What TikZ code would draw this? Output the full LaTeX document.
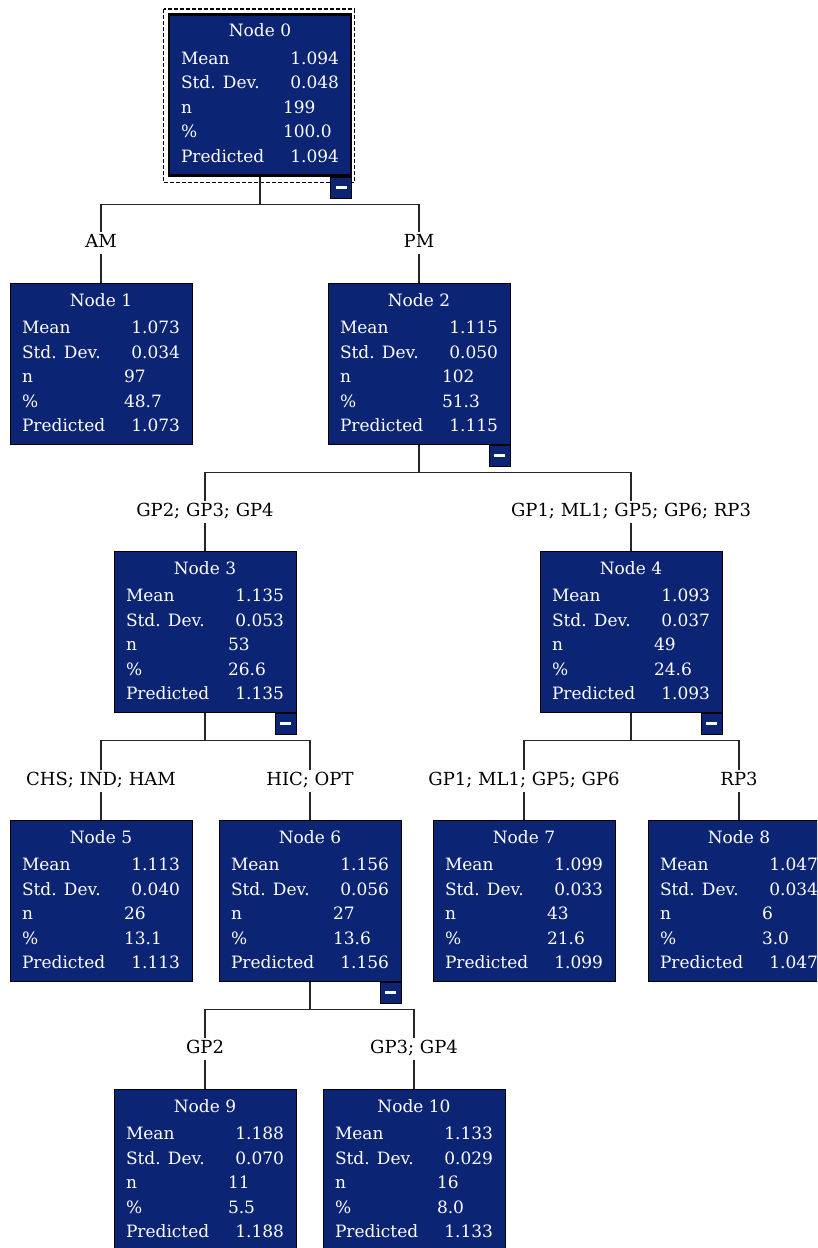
\documentclass[tikz,border=0pt]{standalone}
\usepackage{fontspec}
\setmainfont{DejaVu Serif}
\usepackage{array}
\usepackage{xcolor}
\definecolor{marine}{RGB}{12,36,116}
\tikzset{
  boite/.style={draw=black, fill=marine, text=white, line width=0.8pt,
    minimum width=182pt, minimum height=161pt, anchor=north, inner sep=0pt,
    font=\fontsize{17}{24.5}\selectfont},
  racine/.style={boite, line width=2.5pt},
  moins/.style={draw=black, fill=marine, line width=0.8pt, minimum size=21pt,
    inner sep=0pt, anchor=north east},
  etiq/.style={fill=white, inner sep=2pt, text height=13pt, text depth=4pt,
    font=\fontsize{18}{24.5}\selectfont},
  lien/.style={draw=black!85, line width=1.3pt},
}
% noeud de l'arbre : [style]{numero}{x}{y}{mean}{sd}{n}{pct}{pred}
\newcommand{\noeud}[9][boite]{%
  \node[#1] (n#2) at (#3,#4) {\begin{tabular}{@{}p{102pt}@{}l@{}}
      \multicolumn{2}{@{}c@{}}{Node #2}\\[3pt]
      Mean & \makebox[56pt][r]{#5}\\
      Std. Dev. & \makebox[56pt][r]{#6}\\
      n & \makebox[56pt][l]{#7}\\
      \% & \makebox[56pt][l]{#8}\\
      Predicted & \makebox[56pt][r]{#9}
    \end{tabular}};}
\newcommand{\replier}[1]{%
  \node[moins] (m#1) at (n#1.south east) {\color{white}\rule{11pt}{2.5pt}};}

\begin{document}
\begin{tikzpicture}[x=1pt, y=1pt]
  \clip (0,0) rectangle (817,-1248);
  % boites
  \noeud[racine]{0}{260}{-13}{1.094}{0.048}{199}{100.0}{1.094}
  \noeud{1}{101}{-283}{1.073}{0.034}{97}{48.7}{1.073}
  \noeud{2}{419}{-283}{1.115}{0.050}{102}{51.3}{1.115}
  \noeud{3}{205}{-551}{1.135}{0.053}{53}{26.6}{1.135}
  \noeud{4}{631}{-551}{1.093}{0.037}{49}{24.6}{1.093}
  \noeud{5}{101}{-820}{1.113}{0.040}{26}{13.1}{1.113}
  \noeud{6}{310}{-820}{1.156}{0.056}{27}{13.6}{1.156}
  \noeud{7}{524}{-820}{1.099}{0.033}{43}{21.6}{1.099}
  \noeud{8}{739}{-820}{1.047}{0.034}{6}{3.0}{1.047}
  \noeud{9}{205}{-1089}{1.188}{0.070}{11}{5.5}{1.188}
  \noeud{10}{414}{-1089}{1.133}{0.029}{16}{8.0}{1.133}
  % cadre pointille autour de la racine
  \draw[dash pattern=on 4pt off 2pt, line width=1.2pt]
    ([shift={(-4,4)}]n0.north west) rectangle ([shift={(2,-6)}]n0.south east);
  \foreach \k in {0,2,3,4,6} {\replier{\k}}
  % etiquettes des branches
  \node[etiq] (l1) at (101,-243) {AM};
  \node[etiq] (l2) at (419,-243) {PM};
  \node[etiq] (l3) at (205,-512) {GP2; GP3; GP4};
  \node[etiq] (l4) at (631,-512) {GP1; ML1; GP5; GP6; RP3};
  \node[etiq] (l5) at (101,-781) {CHS; IND; HAM};
  \node[etiq] (l6) at (310,-781) {HIC; OPT};
  \node[etiq] (l7) at (524,-781) {GP1; ML1; GP5; GP6};
  \node[etiq] (l8) at (739,-781) {RP3};
  \node[etiq] (l9) at (205,-1049) {GP2};
  \node[etiq] (l10) at (414,-1049) {GP3; GP4};
  % liens parent -> enfants
  \foreach \p/\a/\b in {0/1/2, 2/3/4, 3/5/6, 4/7/8, 6/9/10} {
    \draw[lien] (n\p.south) -- ++(0,-28) coordinate (b\p);
    \draw[lien] (b\p) -| (l\a.north);
    \draw[lien] (b\p) -| (l\b.north);
    \draw[lien] (l\a.south) -- (n\a.north);
    \draw[lien] (l\b.south) -- (n\b.north);
  }
\end{tikzpicture}
\end{document}
